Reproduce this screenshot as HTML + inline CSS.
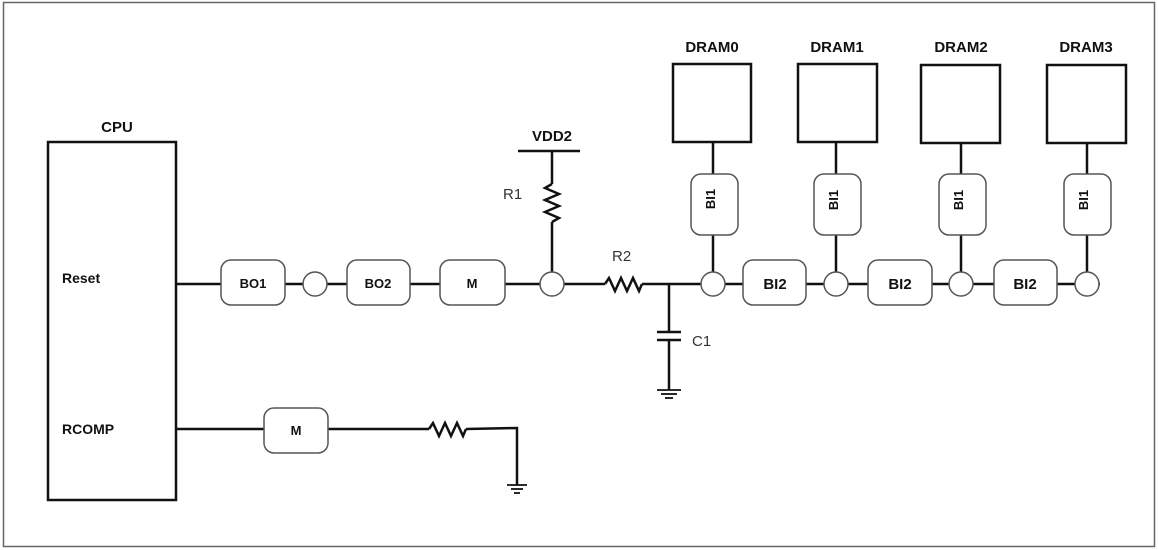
<!DOCTYPE html>
<html><head><style>body{margin:0;background:#fff}svg{display:block}</style></head><body>
<svg width="1158" height="550" viewBox="0 0 1158 550" xmlns="http://www.w3.org/2000/svg" font-family="Liberation Sans, sans-serif">
<rect x="3.5" y="2.5" width="1151" height="544" fill="none" stroke="#666" stroke-width="1.5"/>
<g stroke="#111" stroke-width="2.5" fill="none">
<rect x="48" y="142" width="128" height="358"/>
<!-- Reset main line -->
<line x1="176" y1="284" x2="605" y2="284"/>
<line x1="642" y1="284" x2="1100" y2="284"/>
<polyline points="605,284 609,278 615,291 621,278 627,291 633,278 639,291 642,284"/>
<!-- R1 -->
<line x1="518" y1="151" x2="580" y2="151"/>
<line x1="552" y1="151" x2="552" y2="184"/>
<polyline points="552,184 545,188 559,194 545,200 559,206 545,212 559,218 552,222"/>
<line x1="552" y1="222" x2="552" y2="284"/>
<!-- C1 -->
<line x1="669" y1="284" x2="669" y2="332"/>
<line x1="657" y1="332" x2="681" y2="332"/>
<line x1="657" y1="340" x2="681" y2="340"/>
<line x1="669" y1="340" x2="669" y2="390"/>
<!-- DRAM -->
<rect x="673" y="64" width="78" height="78"/>
<rect x="798" y="64" width="79" height="78"/>
<rect x="921" y="65" width="79" height="78"/>
<rect x="1047" y="65" width="79" height="78"/>
<line x1="713" y1="142" x2="713" y2="284"/>
<line x1="836" y1="142" x2="836" y2="284"/>
<line x1="961" y1="143" x2="961" y2="284"/>
<line x1="1087" y1="143" x2="1087" y2="284"/>
<!-- RCOMP -->
<line x1="176" y1="429" x2="429" y2="429"/>
<polyline points="429,429 433,423 439,436 445,423 451,436 457,423 463,436 466,429"/>
<polyline points="466,429 517,428 517,485"/>
</g>
<g stroke="#111" stroke-width="1.8">
<line x1="657" y1="390" x2="681" y2="390"/><line x1="661" y1="394" x2="677" y2="394"/><line x1="665" y1="398" x2="673" y2="398"/>
<line x1="507" y1="485" x2="527" y2="485"/><line x1="511" y1="489" x2="523" y2="489"/><line x1="514" y1="493" x2="520" y2="493"/>
</g>
<g stroke="#555" stroke-width="1.5" fill="#fff">
<rect x="221" y="260" width="64" height="45" rx="10"/>
<rect x="347" y="260" width="63" height="45" rx="10"/>
<rect x="440" y="260" width="65" height="45" rx="10"/>
<rect x="264" y="408" width="64" height="45" rx="10"/>
<rect x="743" y="260" width="63" height="45" rx="10"/>
<rect x="868" y="260" width="64" height="45" rx="10"/>
<rect x="994" y="260" width="63" height="45" rx="10"/>
<rect x="691" y="174" width="47" height="61" rx="10"/>
<rect x="814" y="174" width="47" height="61" rx="10"/>
<rect x="939" y="174" width="47" height="61" rx="10"/>
<rect x="1064" y="174" width="47" height="61" rx="10"/>
<circle cx="315" cy="284" r="12"/><circle cx="552" cy="284" r="12"/>
<circle cx="713" cy="284" r="12"/><circle cx="836" cy="284" r="12"/>
<circle cx="961" cy="284" r="12"/><circle cx="1087" cy="284" r="12"/>
</g>
<g font-weight="bold" fill="#111" font-size="15" text-anchor="middle">
<text x="117" y="132">CPU</text>
<text x="552" y="141">VDD2</text>
<text x="712" y="52">DRAM0</text>
<text x="837" y="52">DRAM1</text>
<text x="961" y="52">DRAM2</text>
<text x="1086" y="52">DRAM3</text>
<text x="775" y="289">BI2</text>
<text x="900" y="289">BI2</text>
<text x="1025" y="289">BI2</text>
</g>
<g font-weight="bold" fill="#111" font-size="13" text-anchor="middle">
<text x="253" y="288">BO1</text>
<text x="378" y="288">BO2</text>
<text x="472" y="288">M</text>
<text x="296" y="435">M</text>
<text x="719" y="205" transform="rotate(-90 714 204)">BI1</text>
<text x="841" y="205" transform="rotate(-90 837 204)">BI1</text>
<text x="966" y="205" transform="rotate(-90 962 204)">BI1</text>
<text x="1091" y="205" transform="rotate(-90 1087 204)">BI1</text>
</g>
<g font-weight="bold" fill="#111" font-size="14">
<text x="62" y="283">Reset</text>
<text x="62" y="434">RCOMP</text>
</g>
<g fill="#333" font-size="15">
<text x="503" y="199">R1</text>
<text x="612" y="261">R2</text>
<text x="692" y="346">C1</text>
</g>
</svg>
</body></html>
